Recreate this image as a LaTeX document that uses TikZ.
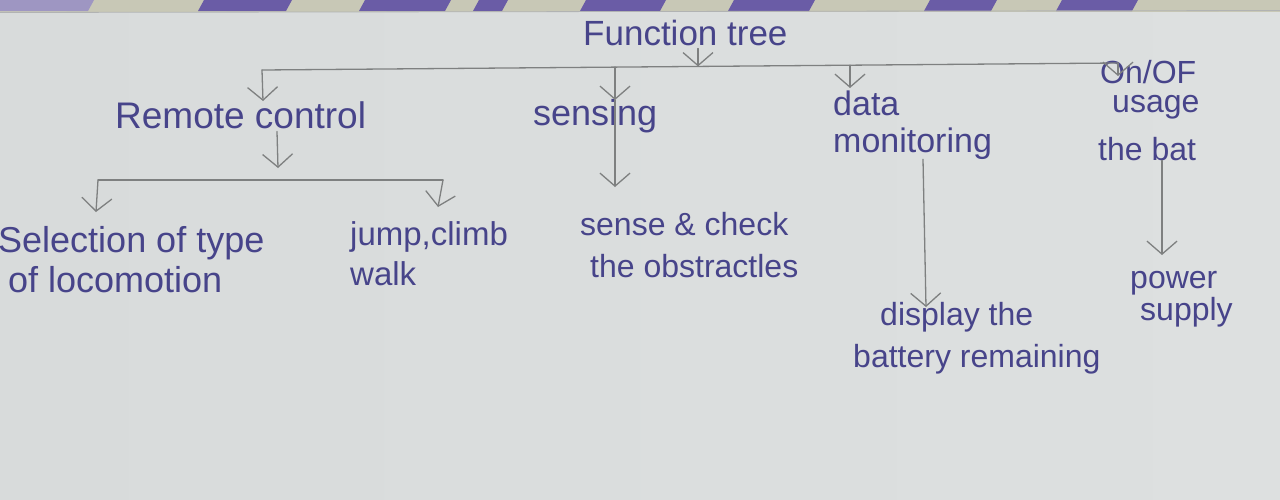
\documentclass[tikz,border=0pt]{standalone}
\usepackage{fontspec}
\setmainfont{Liberation Sans}
\usetikzlibrary{arrows.meta}
\definecolor{ink}{HTML}{47448A}
\definecolor{pencil}{HTML}{7E8080}
\definecolor{paperL}{HTML}{D8DBDB}
\definecolor{paperM}{HTML}{E5E7E7}
\definecolor{paperR}{HTML}{DDE0E0}
\definecolor{band}{HTML}{C8C8B6}
\definecolor{stripe}{HTML}{6A5CA6}
\definecolor{stripeL}{HTML}{9E96C2}
\tikzset{
  txt/.style={text=ink, inner sep=0pt, anchor=base west, align=left},
  link/.style={draw=pencil, line width=1.3pt, line cap=round},
  arr/.style={link, -{Straight Barb[length=13pt,width=30pt,line width=1.3pt]}},
}
\newcommand{\fs}[2]{\fontsize{#1}{#2}\selectfont}
\begin{document}
\begin{tikzpicture}[x=1pt,y=-1pt]
\useasboundingbox (0,0) rectangle (1280,499);
% paper and notebook edge
\shade[left color=paperL, middle color=paperM, right color=paperR] (0,0) rectangle (1280,499);
\fill[band] (0,0) rectangle (1280,12);
\fill[stripeL] (0,0) -- (94,0) -- (88,11) -- (0,11) -- cycle;
\foreach \a/\b in {198/286, 359/445, 473/502, 580/660, 728/809, 924/991, 1056/1132}
  \fill[stripe] (\a+6,0) -- (\b+6,0) -- (\b,11) -- (\a,11) -- cycle;
\draw[pencil!60, line width=0.8pt] (0,12.5) -- (1280,10.5);

% texts (multi-line nodes are placed at the baseline of their last line)
\node[txt, font=\fs{35}{40}] (title) at (583,45) {Function tree};
\node[txt, font=\fs{37}{40}] (rc) at (115,128) {Remote control};
\node[txt, font=\fs{36}{40}] (sens) at (533,125) {sensing};
\node[txt, font=\fs{34}{38}] (dm) at (833,152) {data\\[-1pt]monitoring};
\node[txt, font=\fs{32}{38}] (onof) at (1098,160) {\hspace*{2pt}On/OF\\[-9pt]\hspace*{14pt}usage\\[10pt]the bat};
\node[txt, font=\fs{36}{38}] (sel) at (-2,292) {Selection of type\\[2pt]\hspace*{10pt}of locomotion};
\node[txt, font=\fs{33}{38}] (jump) at (350,285) {jump,climb\\[2pt]walk};
\node[txt, font=\fs{32}{38}] (sense) at (580,277) {sense \& check\\[4pt]\hspace*{10pt}the obstractles};
\node[txt, font=\fs{32}{38}] (disp) at (853,367) {\hspace*{27pt}display the\\[4pt]battery remaining};
\node[txt, font=\fs{32}{38}] (pow) at (1130,320) {power\\[-6pt]\hspace*{10pt}supply};

% main bar
\coordinate (bL) at (262,70);
\coordinate (bR) at (1118,63);
\coordinate (bS) at (615,67.1);
\coordinate (bD) at (850,65.2);
\coordinate (tT) at (698,66.4);
\draw[link] (bR) -- (bL);
\draw[arr] (title.south -| tT) ++(0,3) -- (tT);
\coordinate (tRC) at (263,101);
\coordinate (tS) at (615,100);
\coordinate (tD) at (850,88);
\coordinate (tO) at (1118,76);
\draw[arr] (bL) -- (tRC);
\draw[arr] (bS) -- (tS);
\draw[arr] (bD) -- (tD);
\draw[arr] (bR) -- (tO);

% remote control branch
\coordinate (tRC2) at (278,168);
\draw[arr] (rc.south -| tRC2) ++(-1,3) -- (tRC2);
\coordinate (sbL) at (98,180);
\coordinate (sbR) at (443,180);
\coordinate (tSel) at (96,212);
\coordinate (tJ) at (438,207);
\draw[link] (sbL) -- (sbR);
\draw[arr] (sbL) -- (tSel);
\draw[arr] (sbR) -- (tJ);

% sensing branch
\coordinate (tSS) at (615,187);
\draw[arr] (tS) -- (tSS);

% data monitoring branch
\coordinate (tDM) at (926,307);
\draw[arr] (dm.south -| 923,0) -- (tDM);

% on/off branch
\coordinate (tP) at (1162,255);
\draw[arr] (onof.south -| tP) -- (tP);
\end{tikzpicture}
\end{document}
